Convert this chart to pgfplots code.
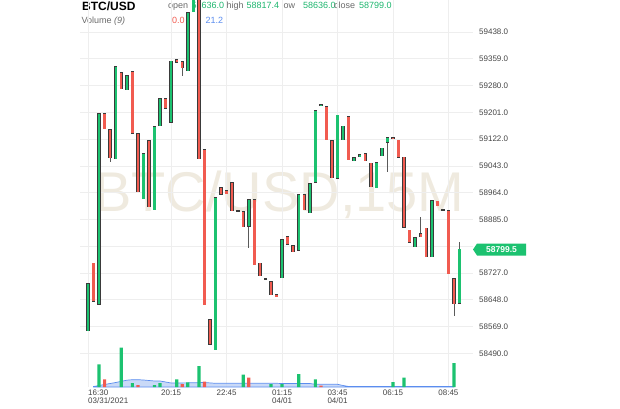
\documentclass[border=0pt]{standalone}
\usepackage{pgfplots}
\pgfplotsset{compat=1.18}
\usepackage{pgfplotstable}
\usepackage{fontspec}
\setmainfont{Liberation Sans}

\definecolor{up}{HTML}{1CC270}
\definecolor{dn}{HTML}{F15B50}
\definecolor{edge}{HTML}{3A3A3A}
\definecolor{wick}{HTML}{5A5A5A}
\definecolor{gridc}{HTML}{EEEEEE}
\definecolor{wm}{HTML}{EFEADF}
\definecolor{lbl}{HTML}{6A6A6A}
\definecolor{tickc}{HTML}{444444}
\definecolor{hdrgreen}{HTML}{1DB66E}
\definecolor{volblue}{HTML}{5B8DEF}
\definecolor{volfill}{HTML}{BCD0F5}

% 15 minute candles, i = 0 at 16:30
\pgfplotstableread{
i o h l c
0 58556 58698 58556 58698
2 58633 59199 58633 59199
5 59063 59338 59063 59338
7 59267 59311 59267 59311
10 58945 59081 58945 59081
12 58913 59161 58913 59161
13 59161 59243 59161 59243
15 59172 59355 59172 59355
18 59323 59497 59323 59497
19 59497 59560 59497 59560
23 58500 58951 58500 58951
29 58863 58945 58801 58945
35 58712 58827 58712 58827
38 58792 58960 58792 58960
40 58904 58993 58904 58993
41 58993 59208 58993 59208
42 59220 59226 59220 59226
45 59007 59196 59007 59196
46 59119 59161 59119 59161
48 59057 59069 59057 59069
49 59069 59078 59069 59078
52 58978 59054 58978 59054
53 59072 59096 59072 59096
54 59111 59128 59025 59128
59 58804 58833 58804 58833
62 58774 58942 58774 58942
67 58636 58817.4 58636 58799
}\greens

\pgfplotstableread{
i o h l c
1 58759 58759 58644 58644
3 59199 59199 59152 59152
4 59152 59152 59054 59066
6 59320 59320 59270 59270
8 59323 59323 59140 59140
9 59140 59140 58966 58966
11 59119 59119 58922 58922
14 59243 59243 59211 59211
16 59358 59358 59347 59347
17 59352 59352 59308 59332
20 59560 59560 59063 59063
21 59093 59093 58633 58633
22 58591 58591 58515 58515
24 58981 58981 58960 58960
25 58972 58972 58960 58960
26 58996 58996 58910 58910
28 58910 58910 58863 58863
30 58945 58945 58751 58751
31 58757 58757 58718 58718
33 58703 58703 58662 58662
34 58665 58665 58656 58656
36 58836 58836 58810 58810
37 58810 58810 58789 58789
39 58960 58960 58913 58913
43 59220 59220 59119 59119
44 59119 59119 59007 59007
47 59190 59190 59060 59060
50 59081 59081 59057 59057
51 59054 59054 58981 58981
55 59128 59128 59122 59122
56 59122 59122 59069 59069
57 59069 59069 58860 58860
58 58854 58854 58816 58816
60 58845 58892 58833 58833
61 58860 58860 58774 58774
63 58942 58942 58925 58925
65 58913 58913 58724 58724
66 58712 58712 58603 58636
}\reds

\pgfplotstableread{
i o
27 58910
32 58709
64 58913
}\dojis

% volume bars
\pgfplotstableread{
i v
2 22.7
6 39.3
8 4
12 2
13 4
16 7.7
18 4.7
20 21
28 12.3
33 3
35 3
38 13
41 7.7
55 5
57 9.3
66 24
}\volup

\pgfplotstableread{
i v
3 7.7
9 2
17 3
21 5.3
29 9.3
42 1.3
}\voldn

\pgfplotstableread{
i v
1 0.5
2 1.5
3 2.5
5 4.5
7 6.8
8 7.3
9 7.3
10 7
12 6
13 6
14 5
15 4
19 4.2
21 4.5
23 3.7
34 3.7
35 3.5
40 3.5
41 2.7
45 2.7
46 1.5
47 0.5
66 0.5
}\volma

\pgfplotsset{
  body/.style={draw=none, mark=none, forget plot,
    error bars/.cd, y dir=both, y explicit, error mark=none},
}

\begin{document}
\begin{tikzpicture}
\path[use as bounding box] (0pt,0pt) rectangle (620pt,408pt);

% watermark
\node[anchor=base, text=wm, inner sep=0, font=\fontsize{56}{56}\selectfont] at (279.5pt,197pt) {BTC/USD,15M};

% header
\node[anchor=base west, inner sep=0, font=\bfseries\fontsize{12}{14}\selectfont] at (82pt,397.5pt) {BTC/USD};
\begin{scope}[every node/.style={anchor=base west, inner sep=0, font=\fontsize{9}{10}\selectfont}]
\node[text=lbl] at (168pt,399pt) {open};
\node[text=hdrgreen] at (191.5pt,399pt) {58636.0};
\node[text=lbl] at (226.5pt,399pt) {high};
\node[text=hdrgreen] at (246.5pt,399pt) {58817.4};
\node[text=lbl] at (281.5pt,399pt) {low};
\node[text=hdrgreen] at (303pt,399pt) {58636.0};
\node[text=lbl] at (334pt,399pt) {close};
\node[text=hdrgreen] at (359pt,399pt) {58799.0};
\node[text=lbl] at (81.5pt,384pt) {Volume \textit{(9)}};
\node[text=dn] at (172pt,384pt) {0.0};
\node[text=volblue] at (205.5pt,384pt) {21.2};
\end{scope}

\begin{axis}[
  at={(80pt,21pt)}, anchor=south west,
  scale only axis, width=393pt, height=387pt,
  xmin=-1.443, xmax=69.43,
  ymin=58390.6, ymax=59532.4,
  scaled y ticks=false,
  axis line style={draw=none},
  major tick length=0pt,
  grid=major,
  major grid style={draw=gridc, line width=0.6pt},
  ytick={58490,58569,58648,58727,58806,58885,58964,59043,59122,59201,59280,59359,59438},
  yticklabels={58490.0,58569.0,58648.0,58727.0,,58885.0,58964.0,59043.0,59122.0,59201.0,59280.0,59359.0,59438.0},
  yticklabel pos=right,
  yticklabel style={anchor=west, inner sep=0pt, xshift=6pt, font=\fontsize{8}{9}\selectfont, text=tickc},
  xtick={15,25,35,45,55,65},
  xticklabels={20:15,22:45,{01:15\\04/01},{03:45\\04/01},06:15,08:45},
  xticklabel style={font=\fontsize{8}{8}\selectfont, text=tickc, inner sep=0pt, align=center, yshift=-3pt},
  extra x ticks={0},
  extra x tick labels={{16:30\\03/31/2021}},
  extra x tick style={grid=major, xticklabel style={anchor=north west, align=left}},
]
% wicks
\addplot[body, error bar style={draw=wick, line width=0.8pt}]
  table[x=i, y expr={(\thisrow{h}+\thisrow{l})/2}, y error expr={(\thisrow{h}-\thisrow{l})/2}] {\greens};
\addplot[body, error bar style={draw=wick, line width=0.8pt}]
  table[x=i, y expr={(\thisrow{h}+\thisrow{l})/2}, y error expr={(\thisrow{h}-\thisrow{l})/2}] {\reds};
% bodies: dark outline, then colour
\addplot[body, error bar style={draw=edge, line width=3.4pt}]
  table[x=i, y expr={(\thisrow{o}+\thisrow{c})/2}, y error expr={abs(\thisrow{c}-\thisrow{o})/2}] {\greens};
\addplot[body, error bar style={draw=up, line width=2.4pt}]
  table[x=i, y expr={(\thisrow{o}+\thisrow{c})/2}, y error expr={max(abs(\thisrow{c}-\thisrow{o})/2-1.5,0.4)}] {\greens};
\addplot[body, error bar style={draw=edge, line width=3.4pt}]
  table[x=i, y expr={(\thisrow{o}+\thisrow{c})/2}, y error expr={abs(\thisrow{c}-\thisrow{o})/2}] {\reds};
\addplot[body, error bar style={draw=dn, line width=2.4pt}]
  table[x=i, y expr={(\thisrow{o}+\thisrow{c})/2}, y error expr={max(abs(\thisrow{c}-\thisrow{o})/2-1.5,0.4)}] {\reds};
\addplot[only marks, mark=-, mark size=1.8pt, mark options={draw=edge, line width=1.2pt}] table[x=i, y=o] {\dojis};
\end{axis}

\begin{axis}[
  at={(80pt,21pt)}, anchor=south west,
  scale only axis, width=393pt, height=387pt,
  xmin=-1.443, xmax=69.43, ymin=0, ymax=387,
  hide axis,
]
\addplot[fill=volfill, fill opacity=0.8, draw=volblue, line width=0.7pt] table[x=i, y=v] {\volma} \closedcycle;
\addplot[ybar, bar width=3.2pt, bar shift=0pt, fill=up, draw=none] table[x=i, y=v] {\volup};
\addplot[ybar, bar width=3.2pt, bar shift=0pt, fill=dn, draw=none] table[x=i, y=v] {\voldn};
\end{axis}

% last price tag
\fill[up] (473pt,158.5pt) -- (477pt,164.5pt) -- (526pt,164.5pt) -- (526pt,152.5pt) -- (477pt,152.5pt) -- cycle;
\node[text=white, font=\bfseries\fontsize{8.5}{9}\selectfont, inner sep=0] at (501.5pt,158.5pt) {58799.5};
\end{tikzpicture}
\end{document}
